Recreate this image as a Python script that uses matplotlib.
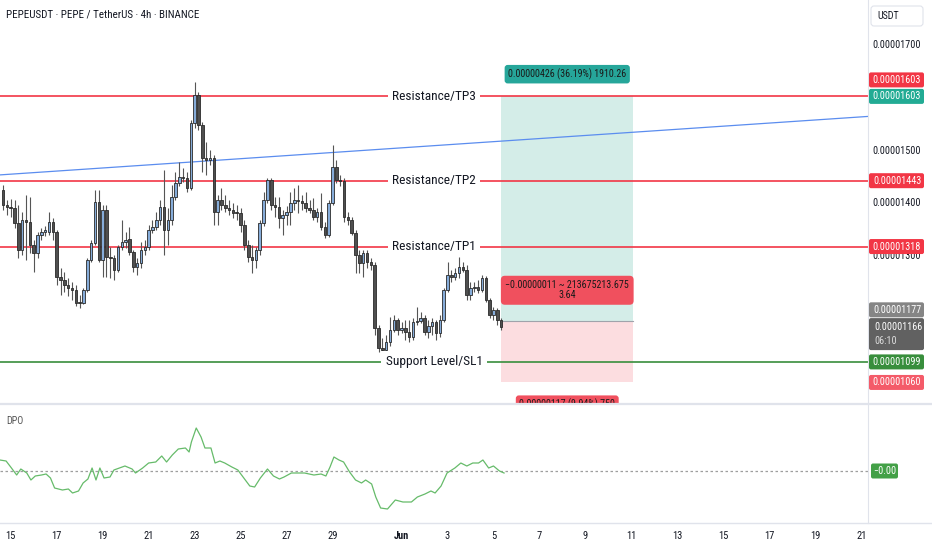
import numpy as np
import pandas as pd
import matplotlib
matplotlib.use('Agg')
import matplotlib.pyplot as plt
from matplotlib import font_manager
from matplotlib.patches import Rectangle, FancyBboxPatch
from matplotlib.transforms import blended_transform_factory

# ---------------- data (prices in 1e-8 USDT) ----------------
first_bar = '2025-05-14 16:00'   # 4h bars
opens = [1425, 1397, 1393, 1391, 1363, 1312, 1369, 1365, 1321, 1306,
         1340, 1346, 1346, 1365, 1346, 1260, 1255, 1245, 1240, 1236,
         1213, 1211, 1236, 1293, 1325, 1403, 1293, 1388, 1298, 1296,
         1274, 1317, 1327, 1333, 1308, 1279, 1287, 1312, 1317, 1350,
         1355, 1369, 1393, 1350, 1369, 1412, 1439, 1450, 1448, 1429,
         1553, 1606, 1549, 1486, 1482, 1486, 1384, 1406, 1397, 1391,
         1388, 1384, 1382, 1359, 1321, 1298, 1293, 1312, 1363, 1406,
         1444, 1397, 1393, 1372, 1378, 1384, 1401, 1406, 1405, 1401,
         1391, 1388, 1374, 1384, 1355, 1340, 1401, 1469, 1444, 1443,
         1374, 1369, 1344, 1302, 1287, 1306, 1289, 1283, 1164, 1126,
         1122, 1137, 1160, 1179, 1160, 1164, 1156, 1147, 1175, 1177,
         1183, 1156, 1167, 1175, 1154, 1179, 1236, 1264, 1260, 1268,
         1279, 1274, 1226, 1240, 1241, 1236, 1258, 1217, 1188, 1198,
         1179]
closes = [1397, 1393, 1392, 1363, 1312, 1369, 1365, 1321, 1306, 1340,
          1346, 1350, 1365, 1346, 1260, 1255, 1245, 1240, 1236, 1211,
          1211, 1236, 1293, 1325, 1403, 1293, 1388, 1298, 1296, 1274,
          1317, 1327, 1331, 1308, 1279, 1287, 1312, 1317, 1350, 1355,
          1369, 1393, 1350, 1369, 1412, 1439, 1450, 1448, 1429, 1553,
          1606, 1549, 1486, 1482, 1486, 1384, 1406, 1397, 1391, 1388,
          1382, 1382, 1359, 1321, 1298, 1293, 1312, 1363, 1406, 1444,
          1397, 1393, 1372, 1378, 1384, 1401, 1406, 1405, 1401, 1391,
          1388, 1374, 1384, 1355, 1340, 1401, 1469, 1444, 1443, 1374,
          1369, 1344, 1302, 1287, 1306, 1289, 1283, 1164, 1126, 1122,
          1137, 1160, 1179, 1160, 1164, 1156, 1147, 1175, 1177, 1183,
          1156, 1167, 1175, 1154, 1179, 1236, 1264, 1260, 1268, 1279,
          1274, 1226, 1240, 1241, 1236, 1258, 1217, 1188, 1198, 1179,
          1166]
highs = [1435, 1406, 1408, 1406, 1397, 1384, 1416, 1412, 1331, 1346,
         1353, 1357, 1384, 1372, 1350, 1277, 1270, 1258, 1251, 1245,
         1226, 1240, 1296, 1331, 1425, 1425, 1397, 1397, 1317, 1302,
         1321, 1369, 1346, 1355, 1312, 1296, 1327, 1331, 1359, 1369,
         1384, 1406, 1463, 1391, 1435, 1460, 1479, 1467, 1460, 1558,
         1630, 1611, 1555, 1517, 1501, 1492, 1416, 1429, 1416, 1406,
         1401, 1397, 1391, 1369, 1331, 1321, 1317, 1369, 1422, 1448,
         1448, 1412, 1412, 1388, 1395, 1422, 1429, 1435, 1416, 1422,
         1406, 1410, 1391, 1420, 1365, 1406, 1511, 1482, 1454, 1448,
         1384, 1374, 1350, 1312, 1312, 1312, 1296, 1289, 1169, 1145,
         1150, 1184, 1188, 1183, 1175, 1179, 1179, 1183, 1203, 1194,
         1188, 1179, 1183, 1179, 1188, 1240, 1289, 1274, 1277, 1298,
         1289, 1283, 1251, 1251, 1255, 1264, 1262, 1220, 1203, 1202,
         1183]
lows = [1388, 1378, 1374, 1353, 1296, 1302, 1293, 1306, 1270, 1296,
        1331, 1338, 1340, 1331, 1245, 1226, 1232, 1224, 1217, 1205,
        1202, 1208, 1232, 1289, 1321, 1289, 1260, 1260, 1258, 1255,
        1270, 1312, 1315, 1302, 1270, 1264, 1277, 1302, 1312, 1344,
        1350, 1359, 1302, 1321, 1359, 1406, 1433, 1441, 1422, 1425,
        1543, 1539, 1460, 1454, 1473, 1359, 1359, 1388, 1384, 1378,
        1372, 1369, 1346, 1312, 1289, 1268, 1277, 1302, 1357, 1401,
        1388, 1374, 1353, 1340, 1359, 1359, 1388, 1382, 1388, 1384,
        1382, 1369, 1365, 1350, 1334, 1336, 1397, 1439, 1433, 1365,
        1359, 1340, 1268, 1268, 1260, 1277, 1274, 1150, 1118, 1118,
        1118, 1130, 1156, 1150, 1154, 1141, 1137, 1141, 1169, 1173,
        1150, 1145, 1150, 1141, 1147, 1175, 1232, 1251, 1255, 1258,
        1270, 1217, 1217, 1232, 1230, 1232, 1213, 1183, 1179, 1169,
        1160]

levels = [1603, 1443, 1318, 1099]
level_names = ['Resistance/TP3', 'Resistance/TP2', 'Resistance/TP1', 'Support Level/SL1']
level_colors = ['#f23645', '#f23645', '#f23645', '#388e3c']

trend_dates = ['2025-05-14 12:50', '2025-06-21 07:00']
trend_prices = [1454, 1565]

entry, target, stop = 1177, 1603, 1060
pos_end = '2025-06-11 02:00'
pos_top_txt = '0.00000426 (36.19%) 1910.26'
pos_mid_txt = '\u22120.00000011 ~ 213675213.675\n3.64'
pos_bot_txt = '0.00000117 (9.94%) 750'

# DPO samples: days after 15 May, value
dpo_days = [-0.47, -0.2, 0.0, 0.26, 0.44, 0.7, 0.88, 1.07, 1.34, 1.54, 1.73, 1.91,
            2.25, 2.51, 2.69, 2.95, 3.15, 3.36, 3.54, 3.71, 3.88, 4.06, 4.32, 4.49,
            4.97, 5.28, 5.43, 5.74, 6.0, 6.31, 6.57, 6.78, 7.03, 7.29, 7.6, 7.76,
            7.86, 8.07, 8.28, 8.45, 8.71, 8.89, 9.1, 9.31, 9.62, 9.88, 10.14, 10.4,
            10.61, 10.86, 11.17, 11.43, 11.69, 11.89, 12.21, 12.47, 12.78, 13.19,
            13.5, 13.71, 13.89, 14.06, 14.28, 14.48, 14.74, 15.0, 15.26, 15.44,
            15.7, 15.88, 16.09, 16.39, 16.73, 17.06, 17.43, 17.69, 18.02, 18.28,
            18.46, 18.72, 18.98, 19.32, 19.58, 19.84, 20.1, 20.35, 20.54, 20.79,
            21.0, 21.26, 21.46]
dpo_vals = [11, 10, 4, -4, 2, -2, -9, -5, -4, -3, -7, -17,
            -19, -18, -22, -20, -12, -8, 3, -9, 3, -7, -6, 1,
            5, 2, -2, 3, 8, 9, 15, 9, 16, 22, 23, 19,
            29, 43, 34, 23, 23, 8, 10, 8, 4, 1, -7, -15,
            -16, -7, 2, -5, -8, -6, -2, -2, -2, -4,
            -3, -5, 4, 14, 11, 9, -1, -9, -12, -9,
            -13, -26, -37, -38, -29, -31, -31, -26, -23, -20,
            -22, -15, -2, 3, 8, 5, 8, 8, 11, 3,
            5, 0, -2]

tick_dates = ['2025-05-15', '2025-05-17', '2025-05-19', '2025-05-21', '2025-05-23',
              '2025-05-25', '2025-05-27', '2025-05-29', '2025-06-01', '2025-06-03',
              '2025-06-05', '2025-06-07', '2025-06-09', '2025-06-11', '2025-06-13',
              '2025-06-15', '2025-06-17', '2025-06-19', '2025-06-21']
tick_labels = ['15', '17', '19', '21', '23', '25', '27', '29', 'Jun', '3',
               '5', '7', '9', '11', '13', '15', '17', '19', '21']

price_ticks = [1100, 1200, 1300, 1400, 1500, 1600, 1700]

# ---------------- setup ----------------
names = {f.name for f in font_manager.fontManager.ttflist}
FONT = next((n for n in ['Liberation Sans Narrow', 'Roboto Condensed', 'Liberation Sans', 'Roboto']
             if n in names), 'DejaVu Sans')
k = 1.0 if 'Narrow' in FONT or 'Condensed' in FONT else 0.86
plt.rcParams['font.family'] = [FONT, 'DejaVu Sans']

W, H = 932, 550
ref = pd.Timestamp('2025-05-15')
def days(t):
    return (pd.to_datetime(t) - ref) / pd.Timedelta(days=1)

o = np.array(opens); c = np.array(closes); hi = np.array(highs); lo = np.array(lows)
t = pd.date_range(first_bar, periods=len(opens), freq='4h')
x = np.asarray(days(t))

fig = plt.figure(figsize=(W / 100, H / 100), dpi=100)
fig.patch.set_facecolor('white')
ax = fig.add_axes([0, 1 - 403 / H, 868 / W, 403 / H])
dax = fig.add_axes([0, 1 - 523 / H, 868 / W, 118 / H])
for a in (ax, dax):
    for s in a.spines.values():
        s.set_visible(False)
    a.set_xlim(-0.465, 37.29)
ax.set_ylim(1021, 1786)
ax.set_xticks([]); ax.set_yticks([])
dax.set_ylim(-52, 66)
dax.set_yticks([])

# position tool
x0, x1 = x[-1], days(pos_end)
ax.add_patch(Rectangle((x0, entry), x1 - x0, target - entry, fc='#d4ede8', ec='none', zorder=0))
ax.add_patch(Rectangle((x0, stop), x1 - x0, entry - stop, fc='#fcdde0', ec='none', zorder=0))
ax.plot([x0, x1], [entry, entry], color='#a0a3ab', lw=0.8, zorder=1)
xm = (x0 + x1) / 2
lab = dict(ha='center', va='center', fontsize=7.2 * k, color='#1a1a1a', zorder=6)
ax.annotate(pos_top_txt, (xm, target), xytext=(0, 16), textcoords='offset points',
            bbox=dict(boxstyle='round,pad=0.35,rounding_size=0.3', fc='#26a69a', ec='none'), **lab)
ax.annotate(pos_mid_txt, (xm, entry), xytext=(0, 22), textcoords='offset points',
            linespacing=1.0,
            bbox=dict(boxstyle='round,pad=0.45,rounding_size=0.4', fc='#f0505e', ec='none'), **lab)
bt = ax.annotate(pos_bot_txt, (xm, stop), xytext=(0, -16), textcoords='offset points',
                 bbox=dict(boxstyle='round,pad=0.35,rounding_size=0.3', fc='#f0505e', ec='none'),
                 annotation_clip=False, **lab)
bt.set_clip_on(True)

# levels
tr = blended_transform_factory(ax.transAxes, ax.transData)
for lv, nm, col in zip(levels, level_names, level_colors):
    ax.axhline(lv, color=col, lw=1.2, zorder=1)
    ax.text(0.5, lv, nm, transform=tr, ha='center', va='center', fontsize=9.6 * k,
            color='#131722', zorder=5, bbox=dict(fc='white', ec='none', pad=3))

# trend line
ax.plot(days(trend_dates), trend_prices, color='#5b8def', lw=0.9, zorder=1)

# candles
up = c >= o
ax.vlines(x, np.minimum(lo, np.minimum(o, c)), np.maximum(hi, np.maximum(o, c)),
          color='#555555', lw=0.8, zorder=2)
bw = 0.11
ax.bar(x[up], (c - o)[up], bottom=o[up], width=bw, color='#86acd9',
       edgecolor='#2a2a2a', lw=0.6, zorder=3)
ax.bar(x[~up], (c - o)[~up], bottom=o[~up], width=bw, color='#4f4f4f',
       edgecolor='#2a2a2a', lw=0.6, zorder=3)

# DPO pane
dax.axhline(0, color='#9e9e9e', lw=0.9, ls=(0, (2, 2)))
dax.plot(dpo_days, dpo_vals, color='#66bb6a', lw=0.9)
dax.set_xticks(days(tick_dates))
dax.set_xticklabels(tick_labels)
dax.tick_params(axis='x', length=0, pad=6, labelsize=7.6 * k, colors='#131722')
for tl in dax.get_xticklabels():
    if tl.get_text() == 'Jun':
        tl.set_fontweight('bold')

# overlay in figure pixels
ov = fig.add_axes([0, 0, 1, 1], zorder=10)
ov.set_xlim(0, W); ov.set_ylim(H, 0); ov.axis('off'); ov.patch.set_alpha(0)

def py(a, v):
    d = a.transData.transform((0, v))
    return ov.transData.inverted().transform(d)[1]

sep = '#e0e3eb'
ov.plot([0, W], [404, 404], color=sep, lw=1.6)
ov.plot([0, W], [523, 523], color=sep, lw=1.0)
ov.plot([868, 868], [0, 523], color=sep, lw=0.8)

ov.text(6, 15, 'PEPEUSDT \u00b7 PEPE / TetherUS \u00b7 4h \u00b7 BINANCE', fontsize=7.9 * k,
        color='#131722', ha='left', va='center')
ov.text(6, 421, 'DPO', fontsize=7.2 * k, color='#555555', ha='left', va='center')

ov.add_patch(FancyBboxPatch((871, 6), 52, 20, boxstyle='round,pad=0,rounding_size=3',
                            fc='white', ec=sep, lw=0.8))
ov.text(877, 16, 'USDT', fontsize=7.2 * k, color='#131722', ha='left', va='center')

for v in price_ticks:
    ov.text(897, py(ax, v), f'{v * 1e-8:.8f}', fontsize=7.3 * k, color='#131722',
            ha='center', va='center', zorder=2)

def tag(y, txt, fc, x0=869, w=55, h=15, y_top=None, y_bot=None):
    top = y - h / 2 if y_top is None else y_top
    bot = y + h / 2 if y_bot is None else y_bot
    ov.add_patch(FancyBboxPatch((x0, top), w, bot - top, boxstyle='round,pad=0,rounding_size=2',
                                fc=fc, ec='none', zorder=4))

tag_values = [1603, 1603, 1443, 1318, 1177, 1099, 1060]
tag_colors = ['#f23645', '#22ab94', '#f23645', '#f23645', '#858585', '#388e3c', '#f45b69']
tag_shift = [-16.5, 0, 0, 0, -11, 0, 0]
for v, col, sh in zip(tag_values, tag_colors, tag_shift):
    y = py(ax, v) + sh
    tag(y, '', col)
    ov.text(897, y, f'{v * 1e-8:.8f}', fontsize=7.3 * k, color='white',
            ha='center', va='center', zorder=5)

yl = py(ax, closes[-1])
tag(yl, '', '#616161', y_top=yl - 8.5, y_bot=yl + 23.5)
ov.text(874, yl, f'{closes[-1] * 1e-8:.8f}', fontsize=7.3 * k, color='white',
        ha='left', va='center', zorder=5)
ov.text(874, yl + 14, '06:10', fontsize=7.3 * k, color='#dddddd',
        ha='left', va='center', zorder=5)

yd = py(dax, 0)
tag(yd, '', '#43a047', x0=871, w=27)
ov.text(884.5, yd, '\u22120.00', fontsize=7.3 * k, color='white', ha='center', va='center', zorder=5)

fig.savefig('out.png', dpi=100, facecolor='white')
